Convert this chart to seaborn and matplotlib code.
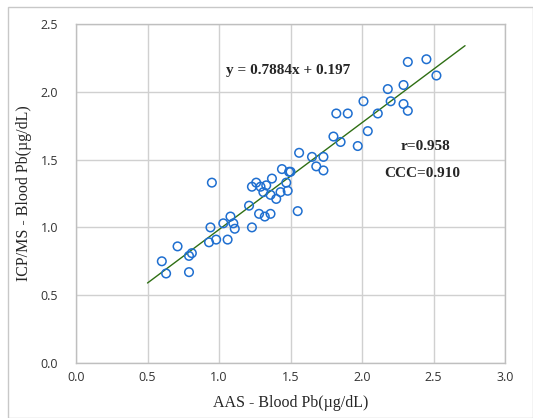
import matplotlib
matplotlib.use("Agg")
import matplotlib.pyplot as plt
import seaborn as sns
import pandas as pd
from matplotlib.patches import Rectangle

# AAS vs ICP/MS blood Pb (µg/dL)
aas = [0.60, 0.63, 0.71, 0.79, 0.81, 0.79, 0.94, 0.93, 0.95, 0.98, 1.03, 1.06,
       1.08, 1.10, 1.11, 1.21, 1.23, 1.23, 1.26, 1.28, 1.29, 1.31, 1.32, 1.33,
       1.36, 1.36, 1.37, 1.40, 1.43, 1.44, 1.47, 1.48, 1.49, 1.50, 1.55, 1.56,
       1.65, 1.68, 1.73, 1.73, 1.80, 1.82, 1.85, 1.90, 1.97, 2.01, 2.04, 2.11,
       2.18, 2.20, 2.29, 2.29, 2.32, 2.32, 2.45, 2.52]
icpms = [0.75, 0.66, 0.86, 0.79, 0.81, 0.67, 1.00, 0.89, 1.33, 0.91, 1.03, 0.91,
         1.08, 1.03, 0.99, 1.16, 1.00, 1.30, 1.33, 1.10, 1.30, 1.26, 1.08, 1.31,
         1.10, 1.24, 1.36, 1.21, 1.26, 1.43, 1.33, 1.27, 1.41, 1.41, 1.12, 1.55,
         1.52, 1.45, 1.52, 1.42, 1.67, 1.84, 1.63, 1.84, 1.60, 1.93, 1.71, 1.84,
         2.02, 1.93, 2.05, 1.91, 2.22, 1.86, 2.24, 2.12]

# trend line ends
trend_x = [0.50, 2.72]
trend_y = [0.59, 2.34]

xticks = [0.0, 0.5, 1.0, 1.5, 2.0, 2.5, 3.0]
yticks = [0.0, 0.5, 1.0, 1.5, 2.0, 2.5]

df = pd.DataFrame({"AAS": aas, "ICPMS": icpms})

sns.set_style("white")
fig = plt.figure(figsize=(5.33, 4.18), dpi=100)
ax = fig.add_axes([0.1426, 0.1316, 0.805, 0.811])

sns.scatterplot(data=df, x="AAS", y="ICPMS", ax=ax, marker="o", s=38,
                facecolors="none", edgecolor="#1f6fd0", linewidth=1.1, zorder=3)
ax.plot(trend_x, trend_y, color="#2f6f14", linewidth=1.0, zorder=2)

ax.set_xlim(0, 3.0)
ax.set_ylim(0, 2.5)
ax.set_xticks(xticks)
ax.set_yticks(yticks)
ax.set_xticklabels([f"{t:.1f}" for t in xticks], fontsize=9, color="#333333", family="Open Sans")
ax.set_yticklabels([f"{t:.1f}" for t in yticks], fontsize=9, color="#333333", family="Open Sans")
ax.tick_params(axis="y", length=0, pad=13)
ax.tick_params(axis="x", length=0, pad=6)
ax.grid(True, color="#d0d0d0", linewidth=1.0)
for s in ax.spines.values():
    s.set_color("#bfbfbf")
    s.set_linewidth(1.0)

ax.set_xlabel("AAS - Blood Pb(µg/dL)", fontsize=11.5, family="Liberation Serif", color="#262626", labelpad=8)
ax.set_ylabel("ICP/MS - Blood Pb(µg/dL)", fontsize=11.5, family="Liberation Serif", color="#262626", labelpad=6)

ax.text(1.485, 2.155, "y = 0.7884x + 0.197", ha="center", va="center",
        fontsize=11, fontweight="bold", family="Liberation Serif")
ax.text(2.44, 1.60, "r=0.958", ha="center", va="center",
        fontsize=11, fontweight="bold", family="Liberation Serif")
ax.text(2.42, 1.40, "CCC=0.910", ha="center", va="center",
        fontsize=11, fontweight="bold", family="Liberation Serif")

# outer chart frame
fig.patches.append(Rectangle((8 / 533, 0), 1 - 8 / 533, 1 - 7 / 418, transform=fig.transFigure,
                             fill=False, edgecolor="#c8c8c8", linewidth=1.0))

fig.savefig("out.png", dpi=100)
